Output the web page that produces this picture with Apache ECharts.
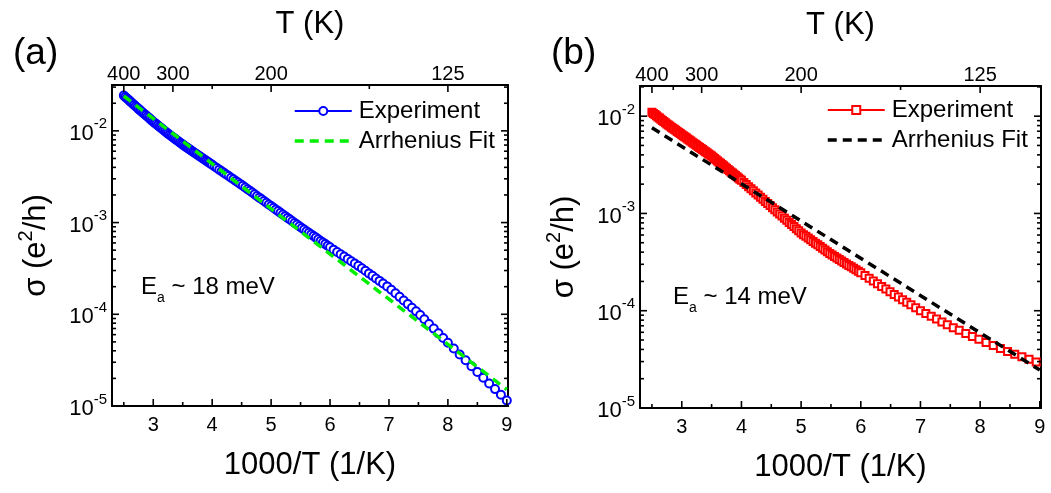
<!DOCTYPE html>
<html><head><meta charset="utf-8">
<script src="https://cdn.jsdelivr.net/npm/echarts@6/dist/echarts.min.js"></script>
<style>html,body{margin:0;padding:0;background:#fff}#c{width:1051px;height:493px}</style>
</head><body><div id="c"></div>
<script>
const FONT = "'Liberation Sans', Arial, Helvetica, sans-serif";

// ---- tick definitions ----
const xMajorTicks = [3, 4, 5, 6, 7, 8, 9];
const xMinorTicks = [2.5, 3.5, 4.5, 5.5, 6.5, 7.5, 8.5];
const topMajorT = [400, 300, 200, 125];   // K, labelled on the top axis
const topMinorT = [350, 250, 150];        // K, unlabelled ticks
const yDecades = [-5, -4, -3, -2];        // log10 of sigma

// ---- panel (a): x = 1000/T (1/K), y = log10(sigma / (e^2/h)) ----
const expXA = [2.500,2.525,2.550,2.575,2.600,2.625,2.650,2.675,2.700,2.725,2.750,2.775,2.800,2.825,2.850,2.875,2.900,2.925,2.950,2.975,3.000,3.025,3.050,3.075,3.100,3.125,3.150,3.175,3.200,3.225,3.250,3.275,3.300,3.325,3.350,3.375,3.400,3.425,3.450,3.475,3.500,3.525,3.550,3.575,3.600,3.625,3.650,3.675,3.700,3.725,3.750,3.775,3.800,3.825,3.850,3.875,3.900,3.925,3.950,3.975,4.000,4.04,4.08,4.12,4.16,4.20,4.24,4.28,4.32,4.36,4.40,4.44,4.48,4.52,4.56,4.60,4.64,4.68,4.72,4.76,4.80,4.84,4.88,4.92,4.96,5.00,5.04,5.08,5.12,5.16,5.20,5.24,5.28,5.32,5.36,5.40,5.44,5.48,5.52,5.56,5.60,5.64,5.68,5.72,5.76,5.80,5.84,5.88,5.92,5.96,6.00,6.06,6.12,6.18,6.24,6.30,6.36,6.42,6.48,6.54,6.60,6.66,6.72,6.78,6.84,6.90,6.97,7.04,7.11,7.18,7.25,7.32,7.39,7.46,7.53,7.60,7.68,7.76,7.84,7.92,8.00,8.10,8.20,8.30,8.40,8.50,8.60,8.70,8.80,8.90,9.00];
const expLogA = [-1.615,-1.630,-1.644,-1.659,-1.673,-1.688,-1.702,-1.717,-1.731,-1.746,-1.760,-1.774,-1.788,-1.802,-1.816,-1.830,-1.844,-1.858,-1.872,-1.886,-1.900,-1.913,-1.926,-1.939,-1.952,-1.965,-1.978,-1.991,-2.004,-2.017,-2.030,-2.042,-2.054,-2.066,-2.078,-2.090,-2.102,-2.114,-2.126,-2.138,-2.150,-2.161,-2.172,-2.183,-2.194,-2.205,-2.216,-2.227,-2.238,-2.249,-2.260,-2.271,-2.282,-2.293,-2.304,-2.315,-2.326,-2.337,-2.348,-2.359,-2.370,-2.388,-2.405,-2.423,-2.440,-2.458,-2.476,-2.493,-2.511,-2.528,-2.546,-2.564,-2.581,-2.599,-2.618,-2.636,-2.654,-2.673,-2.691,-2.710,-2.728,-2.746,-2.765,-2.783,-2.802,-2.820,-2.838,-2.857,-2.875,-2.894,-2.912,-2.930,-2.949,-2.967,-2.986,-3.004,-3.022,-3.041,-3.059,-3.076,-3.094,-3.112,-3.129,-3.147,-3.164,-3.182,-3.200,-3.217,-3.235,-3.252,-3.270,-3.295,-3.320,-3.346,-3.371,-3.396,-3.421,-3.446,-3.472,-3.498,-3.526,-3.554,-3.581,-3.609,-3.636,-3.664,-3.696,-3.732,-3.771,-3.810,-3.850,-3.889,-3.928,-3.968,-4.009,-4.054,-4.105,-4.156,-4.208,-4.259,-4.310,-4.374,-4.438,-4.502,-4.566,-4.630,-4.692,-4.754,-4.816,-4.878,-4.940];
const fitXA = [2.50, 9.00];
const fitLogA = [-1.62, -4.82];

// ---- panel (b) ----
const expXB = [2.500,2.525,2.550,2.575,2.600,2.625,2.650,2.675,2.700,2.725,2.750,2.775,2.800,2.825,2.850,2.875,2.900,2.925,2.950,2.975,3.000,3.025,3.050,3.075,3.100,3.125,3.150,3.175,3.200,3.225,3.250,3.275,3.300,3.325,3.350,3.375,3.400,3.425,3.450,3.475,3.500,3.525,3.550,3.575,3.600,3.625,3.650,3.675,3.700,3.725,3.750,3.775,3.800,3.825,3.850,3.875,3.900,3.925,3.950,3.975,4.000,4.04,4.08,4.12,4.16,4.20,4.24,4.28,4.32,4.36,4.40,4.44,4.48,4.52,4.56,4.60,4.64,4.68,4.72,4.76,4.80,4.84,4.88,4.92,4.96,5.00,5.04,5.08,5.12,5.16,5.20,5.24,5.28,5.32,5.36,5.40,5.44,5.48,5.52,5.56,5.60,5.64,5.68,5.72,5.76,5.80,5.84,5.88,5.92,5.96,6.00,6.07,6.14,6.21,6.28,6.35,6.42,6.49,6.56,6.63,6.70,6.77,6.84,6.92,7.00,7.09,7.18,7.27,7.36,7.45,7.55,7.65,7.76,7.87,7.98,8.10,8.22,8.34,8.46,8.58,8.70,8.82,8.94];
const expLogB = [-1.960,-1.972,-1.984,-1.996,-2.008,-2.020,-2.032,-2.044,-2.056,-2.068,-2.080,-2.091,-2.102,-2.113,-2.124,-2.135,-2.146,-2.157,-2.168,-2.179,-2.190,-2.201,-2.212,-2.223,-2.234,-2.245,-2.256,-2.267,-2.278,-2.289,-2.300,-2.311,-2.322,-2.333,-2.344,-2.355,-2.366,-2.377,-2.388,-2.399,-2.410,-2.423,-2.435,-2.448,-2.460,-2.473,-2.485,-2.498,-2.510,-2.523,-2.535,-2.548,-2.560,-2.573,-2.585,-2.598,-2.610,-2.623,-2.635,-2.648,-2.660,-2.682,-2.703,-2.725,-2.746,-2.768,-2.790,-2.811,-2.833,-2.854,-2.876,-2.898,-2.919,-2.941,-2.962,-2.984,-3.006,-3.027,-3.049,-3.070,-3.092,-3.114,-3.135,-3.157,-3.178,-3.200,-3.218,-3.235,-3.253,-3.270,-3.288,-3.306,-3.323,-3.341,-3.358,-3.376,-3.394,-3.411,-3.428,-3.443,-3.458,-3.473,-3.488,-3.504,-3.519,-3.534,-3.549,-3.564,-3.580,-3.595,-3.610,-3.638,-3.666,-3.694,-3.722,-3.750,-3.778,-3.806,-3.833,-3.859,-3.886,-3.913,-3.939,-3.970,-4.000,-4.029,-4.058,-4.086,-4.115,-4.144,-4.174,-4.202,-4.233,-4.264,-4.294,-4.326,-4.357,-4.388,-4.420,-4.448,-4.474,-4.500,-4.527];
const fitXB = [2.50, 9.00];
const fitLogB = [-2.12, -4.61];

const legendLabels = ['Experiment', 'Arrhenius Fit'];
const panelLabels = ['(a)', '(b)'];
const activation = ['18 meV', '14 meV'];

// ---- layout ----
const grids = [
  { left: 112, top: 85, width: 396, height: 321, outerBoundsMode: 'none' },
  { left: 640, top: 86, width: 401, height: 322, outerBoundsMode: 'none' }
];
const xRange = [2.3, 9.02];
const yMin = -5;
const yMaxes = [-1.5, -1.69];

const yMinor = [];
yDecades.forEach(n => { for (let k = 2; k <= 9; k++) yMinor.push(n + Math.log10(k)); });

const black = '#000';
const MAJOR = 7, MINOR = 4;

function xAxes(g) {
  const base = { gridIndex: g, type: 'value', min: xRange[0], max: xRange[1], splitLine: { show: false }, axisTick: { show: false } };
  return [
    Object.assign({}, base, {
      position: 'bottom',
      axisLine: { show: true, onZero: false, lineStyle: { color: black, width: 2 } },
      axisLabel: { show: true, customValues: xMajorTicks, margin: 9, color: black, fontSize: 20, fontFamily: FONT, formatter: v => String(v) },
      name: '1000/T (1/K)', nameLocation: 'middle', nameGap: 44,
      nameTextStyle: { color: black, fontSize: 31, fontFamily: FONT }
    }),
    Object.assign({}, base, {
      position: 'top',
      axisLine: { show: true, onZero: false, lineStyle: { color: black, width: 2 } },
      axisLabel: { show: true, customValues: topMajorT.map(t => 1000 / t), margin: 1, color: black, fontSize: 20, fontFamily: FONT, formatter: v => String(Math.round(1000 / v)) },
      name: 'T (K)', nameLocation: 'middle', nameGap: 45,
      nameTextStyle: { color: black, fontSize: 31, fontFamily: FONT }
    })
  ];
}

function yAxes(g) {
  const base = { gridIndex: g, type: 'value', min: yMin, max: yMaxes[g], splitLine: { show: false }, axisTick: { show: false } };
  return [
    Object.assign({}, base, {
      position: 'left',
      axisLine: { show: true, onZero: false, lineStyle: { color: black, width: 2 } },
      axisLabel: {
        show: true, customValues: yDecades, margin: 5, color: black, fontFamily: FONT,
        formatter: v => '{b|10}{s|' + Math.round(v) + '}',
        rich: {
          b: { fontSize: 22, fontFamily: FONT, color: black, lineHeight: 28, verticalAlign: 'bottom' },
          s: { fontSize: 15, fontFamily: FONT, color: black, lineHeight: 15, verticalAlign: 'top' }
        }
      },
      name: '{a|σ (e}{s|2}{a|/h)}', nameLocation: 'middle', nameGap: 60, nameRotate: 90,
      nameTextStyle: {
        color: black, fontFamily: FONT,
        rich: {
          a: { fontSize: 31, fontFamily: FONT, color: black, lineHeight: 36, verticalAlign: 'bottom' },
          s: { fontSize: 20, fontFamily: FONT, color: black, lineHeight: 20, verticalAlign: 'top' }
        }
      }
    }),
    Object.assign({}, base, {
      position: 'right',
      axisLine: { show: true, onZero: false, lineStyle: { color: black, width: 2 } },
      axisLabel: { show: false }
    })
  ];
}

// tick marks: [value, side (0 bottom, 1 top, 2 left, 3 right), length]
function tickData(g) {
  const d = [];
  xMajorTicks.forEach(v => d.push([v, 0, MAJOR]));
  xMinorTicks.forEach(v => d.push([v, 0, MINOR]));
  topMajorT.forEach(t => d.push([1000 / t, 1, MAJOR]));
  topMinorT.forEach(t => d.push([1000 / t, 1, MINOR]));
  yDecades.forEach(v => { d.push([v, 2, MAJOR]); d.push([v, 3, MAJOR]); });
  yMinor.filter(v => v <= yMaxes[g]).forEach(v => { d.push([v, 2, MINOR]); d.push([v, 3, MINOR]); });
  return d;
}
function tickRenderer(g) {
  return function (params, api) {
    const v = api.value(0), side = api.value(1), len = api.value(2);
    let p;
    if (side === 0) p = api.coord([v, yMin]);
    else if (side === 1) p = api.coord([v, yMaxes[g]]);
    else if (side === 2) p = api.coord([xRange[0], v]);
    else p = api.coord([xRange[1], v]);
    let x2 = p[0], y2 = p[1];
    if (side === 0) y2 -= len; else if (side === 1) y2 += len; else if (side === 2) x2 += len; else x2 -= len;
    return { type: 'line', shape: { x1: p[0], y1: p[1], x2: x2, y2: y2 }, style: { stroke: black, lineWidth: 1.6 } };
  };
}

const zip = (xs, ys) => xs.map((x, i) => [x, ys[i]]);

const panels = [
  { exp: zip(expXA, expLogA), fit: zip(fitXA, fitLogA), expColor: '#0000ff', fitColor: '#00ee00', symbol: 'emptyCircle', size: 8 },
  { exp: zip(expXB, expLogB), fit: zip(fitXB, fitLogB), expColor: '#ff0000', fitColor: '#000000', symbol: 'emptyRect', size: 7 }
];

const series = [];
const legends = [];
panels.forEach((p, g) => {
  const tag = ' ' + panelLabels[g];
  series.push({
    name: 'ticks' + tag, type: 'custom', xAxisIndex: g * 2, yAxisIndex: g * 2,
    data: tickData(g), renderItem: tickRenderer(g), silent: true, z: 5
  });
  series.push({
    name: legendLabels[0] + tag, type: 'line', xAxisIndex: g * 2, yAxisIndex: g * 2,
    data: p.exp, symbol: p.symbol, symbolSize: p.size, showSymbol: true,
    itemStyle: { color: p.expColor, borderColor: p.expColor, borderWidth: 1 },
    lineStyle: { color: p.expColor, width: 0, opacity: 0 },
    z: 3
  });
  series.push({
    name: legendLabels[1] + tag, type: 'line', xAxisIndex: g * 2, yAxisIndex: g * 2,
    data: p.fit, symbol: 'none',
    itemStyle: { color: p.fitColor },
    lineStyle: { color: p.fitColor, width: 3.5, type: [9, 6] },
    z: 4
  });
  legends.push({
    orient: 'vertical',
    left: g === 0 ? 293 : 826,
    top: g === 0 ? 99 : 98,
    padding: 0,
    itemWidth: 57, itemHeight: 10, itemGap: 6,
    selectedMode: false,
    textStyle: { color: black, fontSize: 24, fontFamily: FONT, padding: [0, 0, 0, 2] },
    formatter: name => name.slice(0, name.length - tag.length),
    data: [
      { name: legendLabels[0] + tag, lineStyle: { color: p.expColor, width: 2, opacity: 1, type: 'solid' } },
      { name: legendLabels[1] + tag, itemStyle: { opacity: 0 }, lineStyle: { color: p.fitColor, width: 3.5, opacity: 1, type: [9, 6] } }
    ]
  });
});

const graphic = [];
const labelPos = [[13, 56], [551, 56]];
const eaPos = [[141, 290], [673, 300]];
panelLabels.forEach((t, g) => {
  graphic.push({ type: 'text', left: labelPos[g][0], top: labelPos[g][1] - 21,
    style: { text: t, fontSize: 37, fontFamily: FONT, fill: black } });
  graphic.push({ type: 'text', x: eaPos[g][0], y: eaPos[g][1],
    style: {
      text: '{e|E}{s|a}{t| ~ ' + activation[g] + '}', verticalAlign: 'middle',
      rich: {
        e: { fontSize: 24, fontFamily: FONT, fill: black, lineHeight: 30, verticalAlign: 'top' },
        s: { fontSize: 14, fontFamily: FONT, fill: black, lineHeight: 14, verticalAlign: 'bottom' },
        t: { fontSize: 24, fontFamily: FONT, fill: black, lineHeight: 30, verticalAlign: 'top' }
      }
    } });
});

const chart = echarts.init(document.getElementById('c'), null, { renderer: 'canvas' });
chart.setOption({
  animation: false,
  backgroundColor: '#fff',
  grid: grids,
  xAxis: [].concat(xAxes(0), xAxes(1)),
  yAxis: [].concat(yAxes(0), yAxes(1)),
  legend: legends,
  series: series,
  graphic: graphic
});
</script>
</body></html>
